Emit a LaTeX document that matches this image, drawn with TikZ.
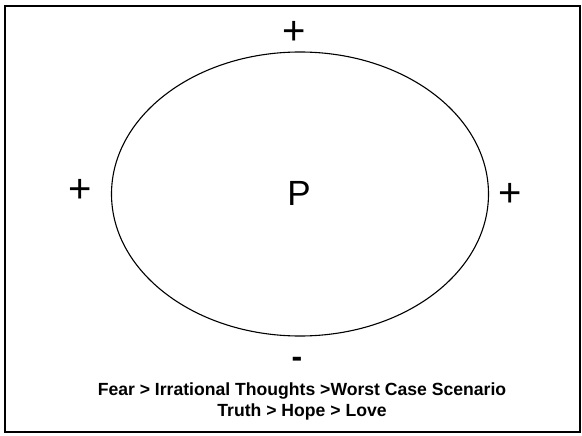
\documentclass[tikz,border=0pt]{standalone}
\usepackage{fontspec}
\setmainfont{Liberation Sans}
\begin{document}
\begin{tikzpicture}[
            x=1pt,
            y=-1pt,
            every node/.style={
                inner sep=0pt
            },
            sign/.style={
                font=\fontsize{40}{40}\selectfont
            },
            caption/.style={
                font=\bfseries\fontsize{17.6}{21}\selectfont,
                align=center
            }
        ]
            \useasboundingbox (0,0) rectangle (582,436);
            \draw[line width=2pt] (5,6) rectangle (580,432);

            \draw[line width=1.1pt] (300,194) ellipse [x radius=188.5, y radius=142];

            \node (p) at (299,193) {\fontsize{35}{35}\selectfont P};
            \node[sign] (top) at (294,33) {+};
            \node[sign] (left) at (80,191) {+};
            \node[sign] (right) at (510,195) {+};
            \node[sign, font=\bfseries\fontsize{32}{32}\selectfont] (bottom) at (297,362) {-};

            \node[caption] (text) at (302,401) {Fear > Irrational Thoughts >Worst Case Scenario\\Truth > Hope > Love};
        \end{tikzpicture}
\end{document}
